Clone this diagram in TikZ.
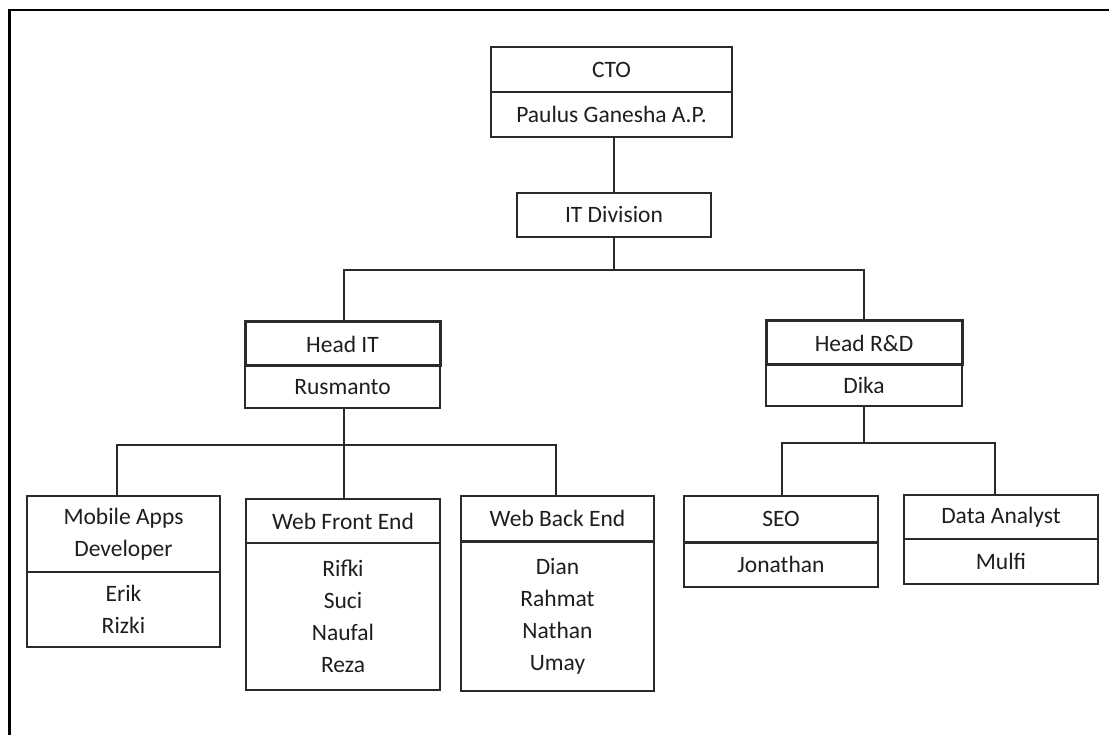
\documentclass[tikz,border=0pt]{standalone}
\usepackage{fontspec}
\setmainfont{Carlito}
\definecolor{lc}{HTML}{2A2A2A}
\definecolor{tc}{HTML}{1E1E1E}
\tikzset{
  box/.style={draw=lc, line width=1.4pt, inner sep=0pt, text=tc, align=center,
    font=\fontsize{23.5}{32}\selectfont},
  thickbox/.style={box, line width=3pt},
  conn/.style={draw=lc, line width=1.4pt},
  frame/.style={draw=black, line width=2.8pt}
}
\begin{document}
\begin{tikzpicture}[x=1pt,y=-1pt]
\useasboundingbox (0,0) rectangle (1109,735);
\fill[white] (0,0) rectangle (1109,735);
\draw[frame] (9.5,740) -- (9.5,10) -- (1115,10);

% top
\node[box, minimum width=241pt, minimum height=45pt] (cto) at (611.5,69.5) {CTO};
\node[box, minimum width=241pt, minimum height=45pt] (ctob) at (611.5,114.5) {Paulus Ganesha A.P.};
\node[box, minimum width=194pt, minimum height=44pt] (itdiv) at (614,215) {IT Division};

% heads
\node[box, minimum width=195pt, minimum height=42pt] (rus) at (342.5,387) {Rusmanto};
\node[thickbox, minimum width=195pt, minimum height=44pt] (headit) at (342.5,344) {Head IT};
\node[box, minimum width=196pt, minimum height=41pt] (dika) at (864,385.5) {Dika};
\node[thickbox, minimum width=196pt, minimum height=44pt] (headrd) at (864,343) {Head R\&D};

% IT team
\node[box, minimum width=193pt, minimum height=76pt] (mob) at (123.5,534) {Mobile Apps\\Developer};
\node[box, minimum width=193pt, minimum height=75pt] (mobb) at (123.5,609.5) {Erik\\Rizki};
\node[box, minimum width=194pt, minimum height=44pt] (wfe) at (343,521) {Web Front End};
\node[box, minimum width=194pt, minimum height=147pt] (wfeb) at (343,616.5) {Rifki\\Suci\\Naufal\\Reza};
\node[box, minimum width=193pt, minimum height=45pt] (wbe) at (557.5,518.5) {Web Back End};
\node[box, minimum width=193pt, minimum height=150pt] (wbeb) at (557.5,616) {Dian\\Rahmat\\Nathan\\Umay};
\draw[lc, line width=2.8pt] (wbe.south west) -- (wbe.south east);

% R&D team
\node[box, minimum width=194pt, minimum height=46pt] (seo) at (781,519) {SEO};
\node[box, minimum width=194pt, minimum height=45pt] (seob) at (781,564.5) {Jonathan};
\draw[lc, line width=2.8pt] (seo.south west) -- (seo.south east);
\node[box, minimum width=194pt, minimum height=44pt] (da) at (1001,517) {Data Analyst};
\node[box, minimum width=194pt, minimum height=45pt] (dab) at (1001,561.5) {Mulfi};

% connectors
\coordinate (bus1) at (614,270);
\coordinate (bus2) at (344,445);
\coordinate (bus3) at (864,443);
\draw[conn] (itdiv.north) -- (itdiv.north |- ctob.south);
\draw[conn] (itdiv.south) -- (bus1);
\draw[conn] ([xshift=1.5pt]headit.north) |- (bus1) -| (headrd.north);
\draw[conn] ([xshift=1.5pt]rus.south) -- (bus2);
\draw[conn] ([xshift=-6.5pt]mob.north) |- (bus2) -| ([xshift=-1.5pt]wbe.north);
\draw[conn] ([xshift=1pt]wfe.north) -- ([xshift=1pt]wfe.north |- bus2);
\draw[conn] (dika.south) -- (bus3);
\draw[conn] ([xshift=1pt]seo.north) |- (bus3) -| ([xshift=-6pt]da.north);
\end{tikzpicture}
\end{document}
